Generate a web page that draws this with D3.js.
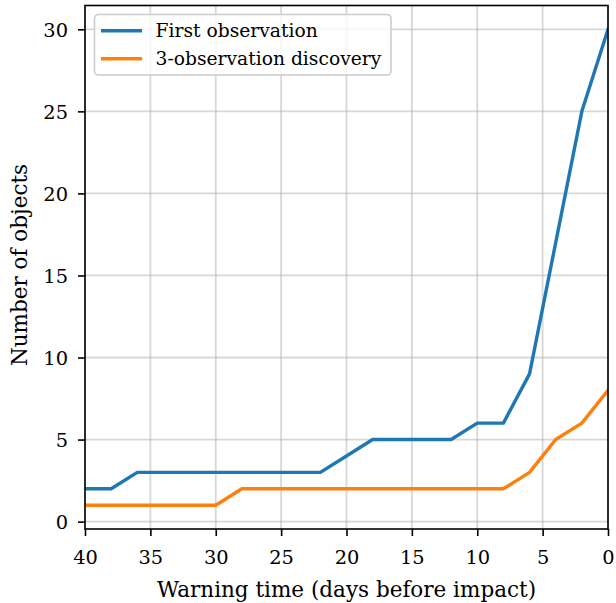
<!DOCTYPE html>
<html>
<head>
<meta charset="utf-8">
<script src="https://cdn.jsdelivr.net/npm/d3@7"></script>
<style>
  html, body { margin: 0; padding: 0; background: #fff; }
  svg { display: block; }
  text { font-family: "DejaVu Serif", serif; fill: #000; }
</style>
</head>
<body>
<svg id="chart" width="616" height="603"></svg>
<script>
// ---- data ----
const days = [40, 38, 36, 34, 32, 30, 28, 26, 24, 22, 20, 18, 16, 14, 12, 10, 8, 6, 4, 2, 0];
const firstObservation = [2, 2, 3, 3, 3, 3, 3, 3, 3, 3, 4, 5, 5, 5, 5, 6, 6, 9, 17, 25, 30];
const threeObsDiscovery = [1, 1, 1, 1, 1, 1, 2, 2, 2, 2, 2, 2, 2, 2, 2, 2, 2, 3, 5, 6, 8];
const seriesNames = ["First observation", "3-observation discovery"];
const seriesColors = ["#1f77b4", "#ff7f0e"];
const xTicks = [40, 35, 30, 25, 20, 15, 10, 5, 0];
const yTicks = [0, 5, 10, 15, 20, 25, 30];
const xLabel = "Warning time (days before impact)";
const yLabel = "Number of objects";

// ---- layout ----
const L = 85, R = 608, T = 5.5, B = 529;
const TICK_FS = 19.4, LABEL_FS = 21.5, LEGEND_FS = 18.7;
const LINE_W = 3.4;
const svg = d3.select("#chart");

const x = d3.scaleLinear().domain([40, 0]).range([L, R]);
const y = d3.scaleLinear().domain([-0.45, 31.45]).range([B, T]);

// grid
const grid = svg.append("g");
grid.selectAll("line.gx").data(xTicks).enter().append("line")
  .attr("x1", d => x(d)).attr("x2", d => x(d))
  .attr("y1", T).attr("y2", B)
  .attr("stroke", "#b0b0b0").attr("stroke-opacity", 0.5).attr("stroke-width", 1.8);
grid.selectAll("line.gy").data(yTicks).enter().append("line")
  .attr("x1", L).attr("x2", R)
  .attr("y1", d => y(d)).attr("y2", d => y(d))
  .attr("stroke", "#b0b0b0").attr("stroke-opacity", 0.5).attr("stroke-width", 1.8);

// lines
const allSeries = [firstObservation, threeObsDiscovery];
const line = d3.line().x((d, i) => x(days[i])).y(d => y(d));
svg.append("clipPath").attr("id", "clip").append("rect")
  .attr("x", L).attr("y", T).attr("width", R - L).attr("height", B - T);
allSeries.forEach((s, k) => {
  svg.append("path").datum(s)
    .attr("d", line)
    .attr("fill", "none")
    .attr("stroke", seriesColors[k])
    .attr("stroke-width", LINE_W)
    .attr("stroke-linejoin", "round")
    .attr("stroke-linecap", "square")
    .attr("clip-path", "url(#clip)");
});

// axes
const xAxis = d3.axisBottom(x).tickValues(xTicks).tickSize(7).tickPadding(7).tickFormat(d3.format("d"));
const gx = svg.append("g").attr("transform", `translate(0,${B})`).call(xAxis);
gx.select(".domain").remove();
gx.selectAll(".tick line").attr("stroke", "#000").attr("stroke-width", 1.6);
gx.selectAll(".tick text").attr("font-size", TICK_FS).attr("font-family", "DejaVu Serif").attr("dy", null).attr("y", 35);

const yAxis = d3.axisLeft(y).tickValues(yTicks).tickSize(7).tickPadding(7).tickFormat(d3.format("d"));
const gy = svg.append("g").attr("transform", `translate(${L},0)`).call(yAxis);
gy.select(".domain").remove();
gy.selectAll(".tick line").attr("stroke", "#000").attr("stroke-width", 1.6);
gy.selectAll(".tick text").attr("font-size", TICK_FS).attr("font-family", "DejaVu Serif").attr("dy", "0.36em").attr("x", -17);

// frame
svg.append("rect").attr("x", L).attr("y", T).attr("width", R - L).attr("height", B - T)
  .attr("fill", "none").attr("stroke", "#000").attr("stroke-width", 1.6);

// axis labels
svg.append("text").attr("x", (L + R) / 2).attr("y", 596.5)
  .attr("text-anchor", "middle").attr("font-size", LABEL_FS).text(xLabel);
svg.append("text").attr("transform", `translate(27.3,265) rotate(-90)`)
  .attr("text-anchor", "middle").attr("font-size", LABEL_FS).text(yLabel);

// legend
const lg = svg.append("g");
lg.append("rect").attr("x", 94.5).attr("y", 14.5).attr("width", 296.5).attr("height", 60.5)
  .attr("rx", 4).attr("ry", 4)
  .attr("fill", "#fff").attr("fill-opacity", 0.8)
  .attr("stroke", "#cccccc").attr("stroke-width", 1.6);
seriesNames.forEach((name, k) => {
  const cy = 30.7 + k * 28;
  lg.append("line").attr("x1", 101).attr("x2", 142).attr("y1", cy).attr("y2", cy)
    .attr("stroke", seriesColors[k]).attr("stroke-width", LINE_W);
  lg.append("text").attr("x", 155.5).attr("y", k === 0 ? 37.3 : 65).attr("font-size", LEGEND_FS).text(name);
});
</script>
</body>
</html>
